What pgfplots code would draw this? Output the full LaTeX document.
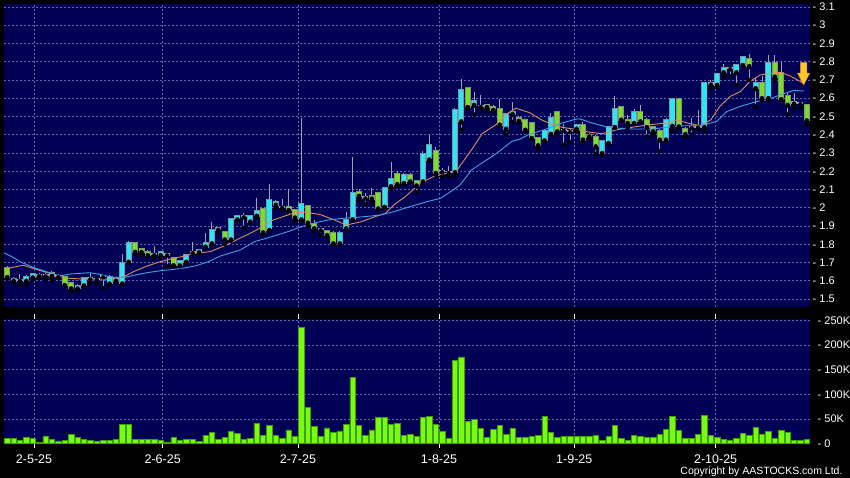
\documentclass[border=0pt]{standalone}
\usepackage{fontspec}
\setmainfont{Liberation Sans}
\usepackage{pgfplots}
\usepackage{pgfplotstable}
\pgfplotsset{compat=1.18}

\definecolor{navybg}{RGB}{0,0,85}
\definecolor{gridc}{RGB}{100,100,170}
\definecolor{upfill}{RGB}{45,230,242}
\definecolor{upedge}{RGB}{120,150,165}
\definecolor{dnfill}{RGB}{125,222,35}
\definecolor{dnedge}{RGB}{125,150,120}
\definecolor{flatc}{RGB}{160,165,170}
\definecolor{wickc}{RGB}{160,160,175}
\definecolor{volfill}{RGB}{120,250,20}
\definecolor{voledge}{RGB}{60,160,0}
\definecolor{maor}{RGB}{220,140,100}
\definecolor{mabl}{RGB}{65,160,230}
\definecolor{arrfill}{RGB}{255,200,40}
\definecolor{arredge}{RGB}{225,140,20}

% up candles: i open high low close
\pgfplotstableread{
i o h l c
1 1.60 1.62 1.59 1.61
3 1.60 1.63 1.58 1.622
4 1.618 1.645 1.605 1.635
5 1.625 1.645 1.615 1.632
11 1.558 1.58 1.55 1.573
12 1.575 1.62 1.57 1.616
16 1.585 1.63 1.58 1.622
18 1.585 1.745 1.58 1.695
19 1.704 1.816 1.70 1.804
24 1.74 1.76 1.73 1.755
27 1.685 1.71 1.68 1.707
28 1.704 1.745 1.70 1.74
30 1.756 1.77 1.75 1.767
31 1.787 1.86 1.785 1.805
32 1.805 1.92 1.80 1.878
33 1.878 1.89 1.875 1.887
35 1.826 1.94 1.82 1.936
36 1.936 1.96 1.93 1.956
38 1.924 1.96 1.92 1.956
39 1.956 2.055 1.95 1.98
41 1.878 2.13 1.875 2.042
42 2.016 2.04 2.0 2.029
46 1.936 2.49 1.93 2.018
52 1.805 1.87 1.80 1.864
53 1.887 1.977 1.88 1.932
54 1.936 2.28 1.93 2.078
59 2.005 2.11 2.0 2.109
60 2.118 2.25 2.10 2.16
62 2.135 2.19 2.13 2.18
65 2.144 2.31 2.14 2.295
66 2.264 2.40 2.26 2.342
70 2.195 2.545 2.18 2.536
71 2.473 2.705 2.427 2.645
73 2.564 2.636 2.51 2.582
78 2.433 2.52 2.40 2.513
79 2.513 2.58 2.47 2.524
84 2.369 2.42 2.36 2.418
85 2.405 2.518 2.40 2.491
89 2.433 2.46 2.42 2.455
93 2.30 2.37 2.29 2.364
94 2.355 2.45 2.35 2.442
95 2.442 2.61 2.44 2.54
98 2.464 2.54 2.46 2.524
103 2.373 2.49 2.36 2.482
104 2.449 2.60 2.42 2.595
109 2.442 2.69 2.42 2.682
111 2.673 2.74 2.66 2.731
112 2.742 2.79 2.72 2.764
114 2.742 2.79 2.672 2.782
115 2.782 2.83 2.78 2.824
117 2.655 2.71 2.555 2.682
119 2.60 2.836 2.59 2.791
}\uptable

% down candles
\pgfplotstableread{
i o h l c
0 1.67 1.68 1.61 1.62
7 1.64 1.655 1.60 1.626
9 1.618 1.62 1.57 1.576
10 1.585 1.59 1.54 1.558
17 1.616 1.62 1.595 1.60
20 1.804 1.81 1.75 1.758
21 1.776 1.78 1.74 1.758
22 1.758 1.77 1.735 1.74
26 1.725 1.73 1.68 1.685
34 1.865 1.87 1.80 1.826
40 1.995 2.0 1.86 1.865
44 2.005 2.10 1.98 1.987
45 1.987 1.99 1.93 1.946
47 2.007 2.01 1.90 1.918
48 1.909 1.93 1.87 1.887
50 1.875 1.88 1.845 1.85
51 1.864 1.87 1.80 1.805
55 2.087 2.10 2.04 2.065
57 2.065 2.11 2.03 2.05
58 2.078 2.08 1.99 1.996
61 2.187 2.20 2.12 2.129
63 2.18 2.19 2.14 2.144
64 2.144 2.15 2.085 2.122
67 2.31 2.33 2.18 2.19
72 2.658 2.664 2.55 2.551
75 2.56 2.565 2.53 2.551
76 2.551 2.56 2.53 2.536
77 2.54 2.596 2.45 2.455
80 2.49 2.50 2.47 2.476
81 2.478 2.48 2.42 2.427
82 2.464 2.47 2.38 2.382
83 2.382 2.39 2.324 2.342
86 2.524 2.53 2.41 2.418
90 2.455 2.47 2.355 2.373
91 2.40 2.41 2.38 2.39
92 2.39 2.40 2.295 2.336
96 2.549 2.55 2.48 2.482
97 2.482 2.51 2.436 2.464
99 2.524 2.564 2.47 2.473
100 2.482 2.49 2.39 2.442
101 2.442 2.45 2.40 2.418
102 2.418 2.43 2.31 2.373
105 2.595 2.60 2.44 2.445
106 2.431 2.44 2.39 2.404
116 2.813 2.842 2.70 2.776
118 2.682 2.72 2.59 2.60
120 2.791 2.836 2.70 2.718
121 2.736 2.80 2.59 2.595
122 2.613 2.627 2.51 2.564
125 2.56 2.565 2.455 2.478
}\dntable

% unchanged (open = close) candles
\pgfplotstableread{
i c h l
2 1.605 1.635 1.577
6 1.63 1.64 1.61
8 1.625 1.635 1.615
13 1.613 1.64 1.585
14 1.61 1.615 1.585
15 1.625 1.63 1.56
23 1.745 1.79 1.725
25 1.744 1.75 1.68
29 1.755 1.81 1.75
37 1.953 1.97 1.89
43 2.005 2.05 1.99
49 1.882 1.89 1.85
56 2.056 2.08 2.02
68 2.20 2.22 2.17
69 2.195 2.23 2.17
74 2.558 2.62 2.53
87 2.427 2.46 2.345
88 2.42 2.43 2.36
107 2.442 2.49 2.40
108 2.445 2.535 2.43
110 2.68 2.70 2.655
113 2.764 2.77 2.72
123 2.576 2.63 2.545
124 2.572 2.58 2.55
}\flattable

% short moving average (orange)
\pgfplotstableread{
i v
0 1.667
2.5 1.685
4.1 1.667
6.7 1.64
8.3 1.622
9.8 1.613
12 1.609
16.6 1.609
18 1.618
19.7 1.649
21.8 1.68
23.9 1.704
25.9 1.722
28 1.737
29.1 1.75
31.7 1.759
34.3 1.796
36.4 1.833
39 1.878
41.6 1.933
44.7 1.97
46.5 1.976
48.9 1.963
51 1.935
53 1.905
55.4 1.924
57.5 1.951
59.1 1.969
60.6 2.02
62.2 2.06
63.5 2.1
64.5 2.134
66.6 2.17
68.7 2.189
70.4 2.21
72.6 2.318
73.6 2.37
74.2 2.404
76.4 2.455
78.3 2.518
79.5 2.545
81.6 2.522
83.5 2.482
85.1 2.458
86.8 2.44
88.8 2.43
90.8 2.415
93 2.405
95.3 2.427
97.9 2.442
100.5 2.455
103.1 2.464
104.7 2.482
106.3 2.464
108.3 2.449
110 2.482
111.4 2.555
113 2.609
114.6 2.636
116.1 2.691
117.7 2.727
119.2 2.736
120.8 2.742
122.4 2.722
124 2.691
124.6 2.68
}\maorange

% long moving average (blue)
\pgfplotstableread{
i v
-0.5 1.753
1 1.727
2 1.704
4.1 1.673
6.2 1.649
8.25 1.625
9.8 1.637
12.9 1.644
14.5 1.635
16.6 1.618
18.5 1.62
20 1.631
22 1.645
24 1.655
26 1.662
28 1.672
29.5 1.682
31.5 1.705
33.3 1.735
36.4 1.768
38.7 1.815
40.6 1.833
43.9 1.869
46 1.896
48.5 1.92
50.2 1.933
52.5 1.942
54.6 1.947
57 1.955
58.3 1.96
60.4 1.978
63 2.006
65.6 2.033
67.7 2.051
69.7 2.097
70.8 2.125
72.6 2.207
74 2.24
76.4 2.295
78.9 2.364
80.1 2.375
81.5 2.4
84.2 2.43
86.7 2.464
88.9 2.485
89.5 2.487
91.4 2.464
93.5 2.445
95.3 2.436
97.9 2.431
100.5 2.431
103.1 2.44
105.7 2.449
108.3 2.449
110.9 2.473
112.5 2.527
114.6 2.555
117.2 2.582
118.7 2.59
120.8 2.618
122.9 2.642
124.5 2.64
}\mablue

% volume in thousands
\pgfplotstableread{
i v
0 10.7
1 10.7
2 6
3 12
4 10.7
5 2
6 15
7 8
8 4.7
9 5.3
10 18
11 12.7
12 7.3
13 6.7
14 4
15 5.3
16 6.7
17 8.7
18 38.7
19 38.7
20 8.7
21 7.3
22 8.7
23 7.3
24 5.3
25 2.7
26 11.3
27 5.3
28 8
29 7.3
30 4
31 16.7
32 22.7
33 7.3
34 12
35 24
36 20.7
37 7.3
38 10
39 40.7
40 16.7
41 36
42 15.3
43 10.7
44 27.3
45 13.3
46 236.7
47 73.3
48 34.7
49 13.3
50 31.3
51 22
52 25.3
53 38
54 134.7
55 36
56 16
57 27.3
58 52
59 52
60 38
61 40.7
62 15.3
63 18
64 14
65 52.7
66 54.7
67 38.7
68 24
69 10.7
70 168.7
71 176
72 45.3
73 48.7
74 30.7
75 12.7
76 28.7
77 36.7
78 18
79 30
80 12
81 12
82 14.7
83 16
84 55.3
85 22.7
86 12.7
87 14.7
88 14.7
89 14.7
90 14.7
91 14
92 15.3
93 6
94 13.3
95 36
96 10
97 6.7
98 15.3
99 14
100 12
101 11.3
102 18
103 28
104 54.7
105 26.7
106 10.7
107 10.7
108 18.7
109 57.3
110 16.7
111 12
112 8
113 5.3
114 9.3
115 20
116 16.7
117 32.7
118 19.3
119 24
120 10
121 26.7
122 22.7
123 6.7
124 5.3
125 8.7
}\voltable

\pgfplotsset{
  chart/.style={
    scale only axis, anchor=south west,
    width=806bp,
    xmin=-0.5, xmax=125.5,
    axis background/.style={fill=navybg},
    axis line style={draw=none},
    xtick={4.2,24.3,45.45,67.5,88.65,110.75},
    grid=major,
    grid style={draw=gridc, line width=0.5bp, dash pattern=on 2bp off 2bp},
    yticklabel pos=right,
    ytick style={draw=none},
    yticklabel style={anchor=west, inner sep=0pt, xshift=2.5bp, text=white,
      font=\fontsize{11bp}{13bp}\selectfont},
  },
  wick/.style={only marks, mark=none, forget plot,
    error bars/.cd, y dir=plus, y explicit, error mark=none,
    error bar style={line width=1bp, color=wickc}},
  body/.style 2 args={only marks, mark=none, forget plot,
    error bars/.cd, y dir=plus, y explicit, error mark=none,
    error bar style={line width=#1, color=#2}},
}

\begin{document}
\begin{tikzpicture}
\fill[black] (0,0) rectangle (850bp,478bp);
\useasboundingbox (0,0) rectangle (850bp,478bp);

% ---------- price panel ----------
\begin{axis}[chart,
  at={(4bp,170.7bp)}, height=303.3bp,
  ymin=1.4545, ymax=3.116,
  xticklabels={},
  major tick length=0bp,
  ytick={1.5,1.6,1.7,1.8,1.9,2.0,2.1,2.2,2.3,2.4,2.5,2.6,2.7,2.8,2.9,3.0,3.1},
  yticklabels={- 1.5,- 1.6,- 1.7,- 1.8,- 1.9,- 2,- 2.1,- 2.2,- 2.3,- 2.4,- 2.5,- 2.6,- 2.7,- 2.8,- 2.9,- 3,- 3.1},
]
% wicks
\addplot[wick] table[x=i, y=l, y error plus expr=\thisrow{h}-\thisrow{l}] {\uptable};
\addplot[wick] table[x=i, y=l, y error plus expr=\thisrow{h}-\thisrow{l}] {\dntable};
\addplot[wick] table[x=i, y=l, y error plus expr=\thisrow{h}-\thisrow{l}] {\flattable};
% up bodies
\addplot[body={6bp}{upedge}]
  table[x=i, y expr=\thisrow{o}-0.0055, y error plus expr=\thisrow{c}-\thisrow{o}+0.011] {\uptable};
\addplot[body={4.2bp}{upfill}]
  table[x=i, y=o, y error plus expr=\thisrow{c}-\thisrow{o}] {\uptable};
% down bodies
\addplot[body={6bp}{dnedge}]
  table[x=i, y expr=\thisrow{c}-0.0055, y error plus expr=\thisrow{o}-\thisrow{c}+0.011] {\dntable};
\addplot[body={4.2bp}{dnfill}]
  table[x=i, y=c, y error plus expr=\thisrow{o}-\thisrow{c}] {\dntable};
% unchanged bodies
\addplot[body={6bp}{flatc}]
  table[x=i, y expr=\thisrow{c}-0.006, y error plus expr=0.012] {\flattable};
% moving averages
\addplot[maor, line width=0.9bp, mark=none] table[x=i, y=v] {\maorange};
\addplot[mabl, line width=0.9bp, mark=none] table[x=i, y=v] {\mablue};
% arrow marker on the last session
\addplot[fill=arrfill, draw=arredge, line width=0.5bp, mark=none]
  coordinates {(124.0,2.795) (125.0,2.795) (125.0,2.737) (125.45,2.737)
               (124.5,2.673) (123.55,2.737) (124.0,2.737)} -- cycle;
\end{axis}

% ---------- volume panel ----------
\begin{axis}[chart,
  at={(4bp,34.7bp)}, height=124bp,
  ymin=0, ymax=252.8,
  ytick={0,50,100,150,200,250},
  yticklabels={- 0,- 50K,- 100K,- 150K,- 200K,- 250K},
  xticklabels={2-5-25,2-6-25,2-7-25,1-8-25,1-9-25,2-10-25},
  xtick style={draw=white, line width=0.8bp},
  major tick length=5bp, tick align=outside,
  xticklabel style={anchor=north, inner sep=0pt, yshift=-6bp, text=white,
    font=\fontsize{12.5bp}{14bp}\selectfont},
]
\addplot[ybar, bar width=5.4bp, fill=volfill, draw=voledge, line width=0.6bp]
  table[x=i, y=v] {\voltable};
\end{axis}

\node[anchor=base east, text=white, font=\fontsize{10.5bp}{12bp}\selectfont]
  at (846bp,4bp) {Copyright by AASTOCKS.com Ltd.};
\end{tikzpicture}
\end{document}
